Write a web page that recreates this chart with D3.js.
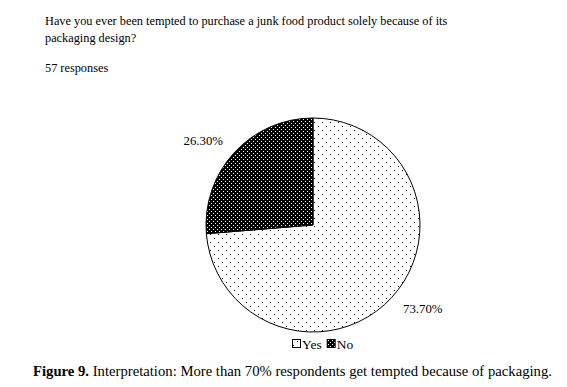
<!DOCTYPE html>
<html><head><meta charset="utf-8">
<script src="https://cdn.jsdelivr.net/npm/d3@7/dist/d3.min.js"></script>
<style>html,body{margin:0;padding:0;background:#fff;}svg{display:block;}</style>
</head><body>
<script>
const categories = ["Yes", "No"];
const values = [73.7, 26.3];
const valueLabels = ["73.70%", "26.30%"];
const titleLines = ["Have you ever been tempted to purchase a junk food product solely because of its", "packaging design?"];
const responsesText = "57 responses";
const captionBold = "Figure 9.";
const captionRest = " Interpretation: More than 70% respondents get tempted because of packaging.";

const W = 567, H = 387;
const svg = d3.select("body").append("svg").attr("width", W).attr("height", H);
const font = "'Liberation Serif','Times New Roman',serif";

const defs = svg.append("defs");
const pYes = defs.append("pattern").attr("id", "pYes").attr("patternUnits", "userSpaceOnUse")
  .attr("width", 8).attr("height", 8);
pYes.append("rect").attr("width", 8).attr("height", 8).attr("fill", "#fff");
pYes.append("rect").attr("x", 1).attr("y", 1).attr("width", 1).attr("height", 1).attr("fill", "#000");
pYes.append("rect").attr("x", 5).attr("y", 5).attr("width", 1).attr("height", 1).attr("fill", "#000");
const pNo = defs.append("pattern").attr("id", "pNo").attr("patternUnits", "userSpaceOnUse")
  .attr("width", 4).attr("height", 4);
pNo.append("rect").attr("width", 4).attr("height", 4).attr("fill", "#000");
pNo.append("rect").attr("x", 0).attr("y", 0).attr("width", 1).attr("height", 1).attr("fill", "#fff");
pNo.append("rect").attr("x", 2).attr("y", 2).attr("width", 1).attr("height", 1).attr("fill", "#fff");
const fills = {Yes: "url(#pYes)", No: "url(#pNo)"};

// title
svg.selectAll("text.title").data(titleLines).enter().append("text")
  .attr("x", 45).attr("y", (d, i) => 25 + i * 17)
  .attr("font-family", font).attr("font-size", 12.3).attr("fill", "#000").text(d => d);
svg.append("text").attr("x", 45).attr("y", 72)
  .attr("font-family", font).attr("font-size", 12.3).attr("fill", "#000").text(responsesText);

// pie
const cx = 313, cy = 225, r = 107;
const data = categories.map((c, i) => ({cat: c, value: values[i], label: valueLabels[i]}));
const pie = d3.pie().sort(null).value(d => d.value);
const arcs = pie(data);
const arc = d3.arc().innerRadius(0).outerRadius(r);
const g = svg.append("g").attr("transform", `translate(${cx},${cy})`);
g.selectAll("path").data(arcs).enter().append("path")
  .attr("d", arc).attr("fill", d => fills[d.data.cat])
  .attr("stroke", "#000").attr("stroke-width", 1);

const labelArc = d3.arc().innerRadius(137).outerRadius(137);
g.selectAll("text.lbl").data(arcs).enter().append("text")
  .attr("x", d => { const c = labelArc.centroid(d); return c[0] + Math.sign(c[0]) * 9; })
  .attr("y", d => { const c = labelArc.centroid(d); return c[1] - Math.sign(c[1]) * 8.5 + 4; })
  .attr("text-anchor", "middle")
  .attr("font-family", font).attr("font-size", 12.8).attr("fill", "#000")
  .text(d => d.data.label);

// legend
const lg = svg.append("g").attr("transform", "translate(292,344)");
let lx = 0;
data.forEach(d => {
  lg.append("rect").attr("x", lx + 0.5).attr("y", -4.5).attr("width", 8).attr("height", 8)
    .attr("fill", fills[d.cat]).attr("stroke", "#000").attr("stroke-width", 1);
  const t = lg.append("text").attr("x", lx + 10).attr("y", 4.5)
    .attr("font-family", font).attr("font-size", 13.5).attr("fill", "#000").text(d.cat);
  lx += 10 + t.node().getComputedTextLength() + 5;
});

// caption
const cap = svg.append("text").attr("x", 33).attr("y", 376)
  .attr("font-family", font).attr("font-size", 14.7).attr("fill", "#000");
cap.append("tspan").attr("font-weight", "bold").text(captionBold);
cap.append("tspan").text(captionRest);
</script>
</body></html>
